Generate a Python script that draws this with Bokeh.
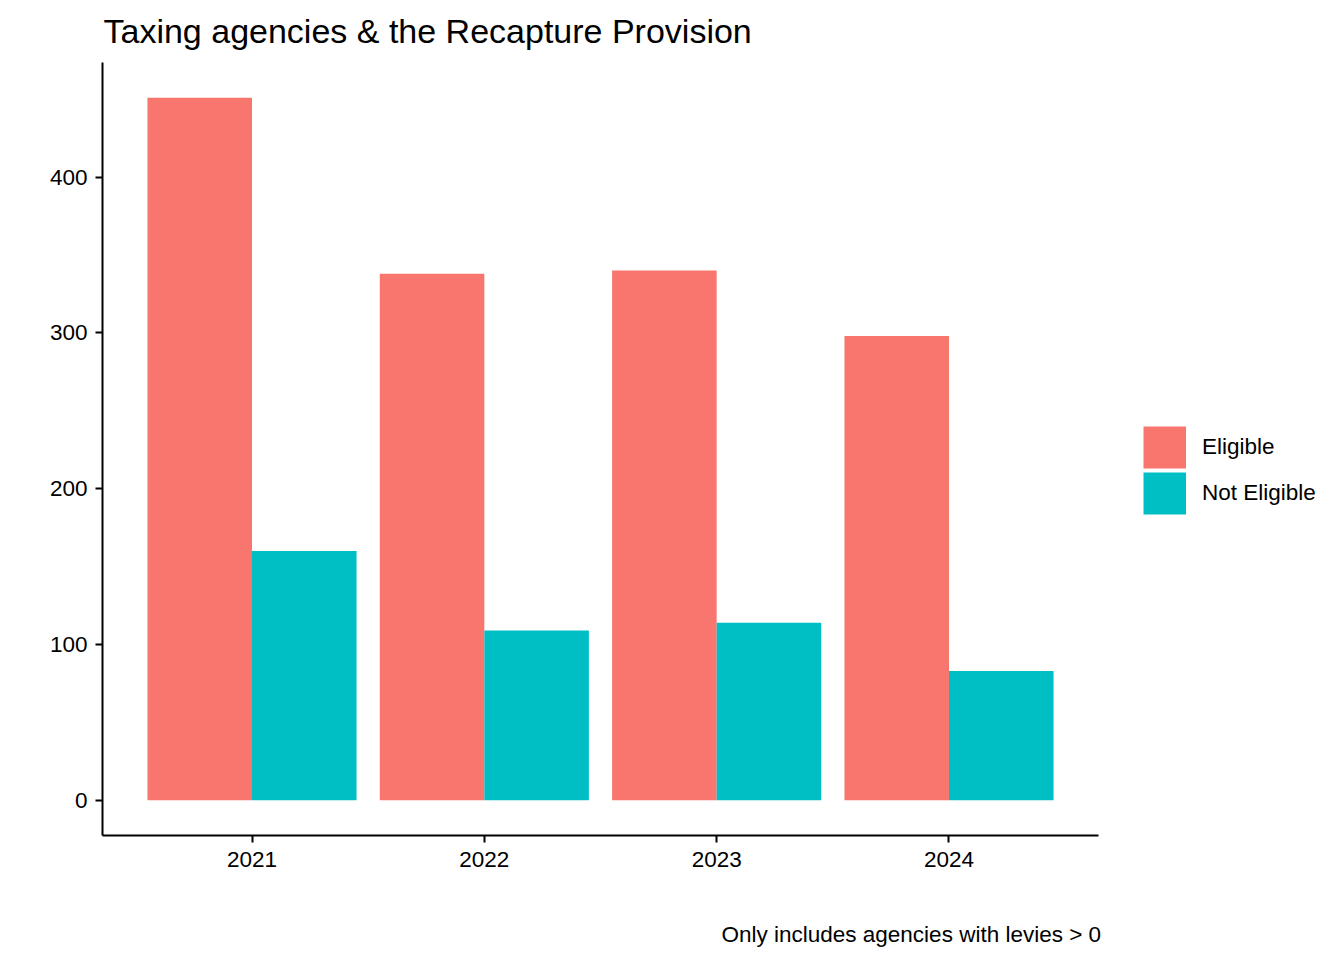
from bokeh.plotting import figure
from bokeh.models import (ColumnDataSource, Range1d, FixedTicker, Legend,
                          LegendItem, Title)
from bokeh.transform import dodge
from bokeh.embed import file_html
from bokeh.resources import INLINE

# ---- data -----------------------------------------------------------------
years = ["2021", "2022", "2023", "2024"]
eligible = [451, 338, 340, 298]
not_eligible = [160, 109, 114, 83]
series_names = ["Eligible", "Not Eligible"]
series_colors = ["#F8766D", "#00BFC4"]
y_ticks = [0, 100, 200, 300, 400]
title_text = "Taxing agencies & the Recapture Provision"
caption_text = "Only includes agencies with levies > 0"

FONT = "Liberation Sans"
FS = "22.5px"

positions = list(range(1, len(years) + 1))
src = ColumnDataSource(dict(x=positions, year=years,
                            eligible=eligible, not_eligible=not_eligible))

ymax = max(eligible + not_eligible)
pad = 0.05 * ymax

# geometry of the panel (pixels)
W, H = 1340, 956
LEFT, TOP, BOTTOM, PANEL_RIGHT = 102, 62, 835, 1098
x0, x1 = 0.3565, 4.6435                       # visible category span
ppu = (PANEL_RIGHT - LEFT) / (x1 - x0)        # pixels per category unit
x_end = x0 + (W - LEFT) / ppu                 # frame extends under the legend

p = figure(width=W, height=H, output_backend="svg", toolbar_location=None,
           x_range=Range1d(x0, x_end), y_range=Range1d(-pad, ymax + pad),
           min_border_left=LEFT, min_border_right=0, min_border_top=TOP,
           min_border_bottom=H - BOTTOM)
p.outline_line_color = None
p.xgrid.visible = False
p.ygrid.visible = False
p.background_fill_color = "white"

r1 = p.vbar(x=dodge("x", -0.225, range=p.x_range), top="eligible", width=0.45,
            bottom=0, source=src, fill_color=series_colors[0], line_color=None)
r2 = p.vbar(x=dodge("x", 0.225, range=p.x_range), top="not_eligible", width=0.45,
            bottom=0, source=src, fill_color=series_colors[1], line_color=None)

# legend keys (thick strokes give full-size square keys; nothing drawn in plot)
nan = float("nan")
k1 = p.line(x=[nan], y=[nan], line_color=series_colors[0], line_width=42)
k2 = p.line(x=[nan], y=[nan], line_color=series_colors[1], line_width=42)

for ax in (p.xaxis[0], p.yaxis[0]):
    ax.axis_line_width = 2
    ax.axis_line_color = "black"
    ax.major_tick_line_width = 2
    ax.major_tick_line_color = "black"
    ax.major_tick_out = 7
    ax.major_tick_in = 0
    ax.minor_tick_out = 0
    ax.minor_tick_in = 0
    ax.major_label_text_font = FONT
    ax.major_label_text_font_size = FS
    ax.major_label_text_color = "black"

p.xaxis.bounds = (x0, x1)
p.xaxis.ticker = FixedTicker(ticks=positions)
p.xaxis.major_label_overrides = {pos: y for pos, y in zip(positions, years)}
p.xaxis.major_label_standoff = 9
p.yaxis.ticker = FixedTicker(ticks=y_ticks)
p.yaxis.major_label_standoff = 8

legend = Legend(items=[LegendItem(label=series_names[0], renderers=[k1], index=0),
                       LegendItem(label=series_names[1], renderers=[k2], index=0)],
                location=(1041, 319), glyph_width=43, glyph_height=46,
                spacing=0, padding=0, margin=0, border_line_color=None,
                background_fill_alpha=0, label_text_font=FONT,
                label_text_font_size=FS, label_standoff=16,
                label_text_color="black")
p.add_layout(legend, "center")

# spacer between frame and title, then title (outermost)
p.add_layout(Title(text=" ", text_font_size="8px", standoff=2), "above")
p.title = Title(text=title_text, text_font=FONT, text_font_size="34px",
                text_font_style="normal", text_color="black", align="left",
                offset=1, standoff=0)

# spacer below the x axis, then caption
p.add_layout(Title(text=" ", text_font_size=FS, standoff=23), "below")
p.add_layout(Title(text=caption_text, text_font=FONT, text_font_size=FS,
                   text_font_style="normal", text_color="black", align="left",
                   offset=619, standoff=0), "below")

open("out.html", "w").write(file_html(p, INLINE))
